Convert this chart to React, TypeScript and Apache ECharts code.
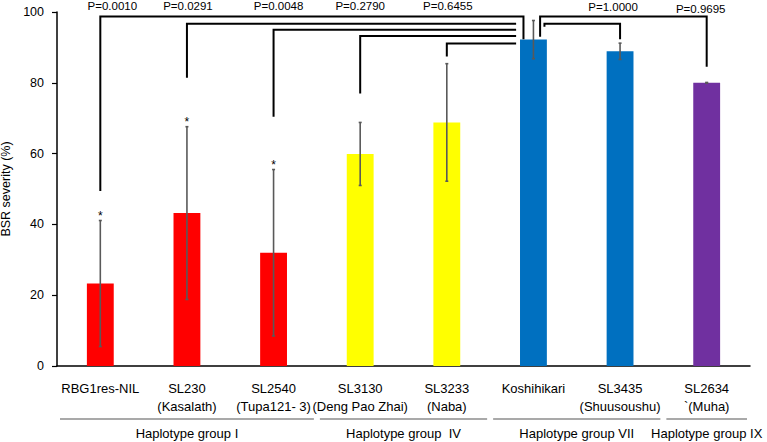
import React, { useEffect, useRef } from 'react';
import * as echarts from 'echarts';

const categories = [
  'RBG1res-NIL',
  'SL230\n(Kasalath)',
  'SL2540\n(Tupa121- 3)',
  'SL3130\n(Deng Pao Zhai)',
  'SL3233\n(Naba)',
  'Koshihikari',
  'SL3435\n(Shuusoushu)',
  'SL2634\n`(Muha)',
];
const severity = [23.3, 43.2, 32.0, 59.9, 68.8, 92.2, 88.9, 80.0];
const errorSize = [17.8, 24.4, 23.5, 8.9, 16.6, 5.4, 2.3, 0.1];
const significant = [true, true, true, false, false, false, false, false];
const barColors = ['#FF0000', '#FF0000', '#FF0000', '#FFFF00', '#FFFF00', '#0070C0', '#0070C0', '#7030A0'];

const groupNames = ['Haplotype group I', 'Haplotype group  IV', 'Haplotype group VII', 'Haplotype group IX'];
const groupFirst = [0, 3, 5, 7];
const groupLast = [2, 4, 6, 7];

const referenceIndex = 5;
const pLabels = ['P=0.0010', 'P=0.0291', 'P=0.0048', 'P=0.2790', 'P=0.6455', 'P=1.0000', 'P=0.9695'];
const comparedIndex = [0, 1, 2, 3, 4, 6, 7];
const bracketLevel = [98.7, 96.7, 95.0, 93.2, 91.1, 96.7, 98.7];
const bracketFoot = [49.4, 81.4, 70.4, 77.0, 87.4, 92.3, 84.5];
const referenceFoot = [92.3, null, null, null, null, 95.8, 93.0];

// layout-only tweaks (fractions of a category band / pixels)
const refSideShift = [-0.115, -0.2, -0.2, -0.2, -0.2, 0.127, 0.077];
const labelDx = [12, 1, 5, 0, 1, -7, -6];
const labelDy = [-6, -6, -6, -6, -6, -4.7, -2.7];

const FONT = '"Liberation Sans", Arial, Helvetica, sans-serif';

export default function App() {
  const ref = useRef<HTMLDivElement>(null);

  useEffect(() => {
    if (!ref.current) return;
    const chart = echarts.init(ref.current, undefined, { renderer: 'svg' });

    const errorData = severity.map((v, i) => [i, v - errorSize[i], v + errorSize[i], significant[i] ? 1 : 0]);
    const bracketData = comparedIndex.map((c, i) => [c, bracketLevel[i], bracketFoot[i], i]);
    const groupData = groupNames.map((_, i) => [groupFirst[i], groupLast[i], i]);

    chart.setOption({
      animation: false,
      backgroundColor: '#ffffff',
      grid: { left: 57, right: 17, top: 12, bottom: 76, containLabel: false, outerBoundsMode: 'none' },
      xAxis: {
        type: 'category',
        data: categories,
        axisLine: { show: true, lineStyle: { color: '#000', width: 1.5 } },
        axisTick: { show: false },
        axisLabel: {
          interval: 0,
          margin: 13,
          color: '#000',
          fontSize: 13,
          lineHeight: 18,
          fontFamily: FONT,
        },
      },
      yAxis: {
        type: 'value',
        min: 0,
        max: 100,
        interval: 20,
        name: 'BSR severity (%)',
        nameLocation: 'middle',
        nameGap: 41,
        nameTextStyle: { color: '#000', fontSize: 12.5, fontFamily: FONT },
        axisLine: { show: true, lineStyle: { color: '#000', width: 1.5 } },
        axisTick: { show: true, length: 5, lineStyle: { color: '#000', width: 1.2 } },
        axisLabel: { color: '#000', fontSize: 12.5, margin: 13, fontFamily: FONT },
        splitLine: { show: false },
      },
      series: [
        {
          type: 'bar',
          barWidth: '31%',
          data: severity.map((v, i) => ({ value: v, itemStyle: { color: barColors[i] } })),
          z: 2,
        },
        {
          type: 'custom',
          z: 3,
          data: errorData,
          encode: { x: 0, y: [1, 2] },
          renderItem: (params: any, api: any) => {
            const idx = api.value(0);
            const lo = api.coord([idx, api.value(1)]);
            const hi = api.coord([idx, api.value(2)]);
            const children: any[] = [
              { type: 'line', shape: { x1: hi[0], y1: hi[1], x2: lo[0], y2: lo[1] }, style: { stroke: '#595959', lineWidth: 1.6 } },
              { type: 'line', shape: { x1: hi[0] - 1.5, y1: hi[1], x2: hi[0] + 1.5, y2: hi[1] }, style: { stroke: '#595959', lineWidth: 1.6 } },
              { type: 'line', shape: { x1: lo[0] - 1.5, y1: lo[1], x2: lo[0] + 1.5, y2: lo[1] }, style: { stroke: '#595959', lineWidth: 1.6 } },
            ];
            if (api.value(3) === 1) {
              children.push({
                type: 'text',
                style: {
                  x: hi[0], y: hi[1] - 5, text: '*', fill: '#000', fontSize: 12, fontFamily: FONT,
                  align: 'center', verticalAlign: 'middle', textAlign: 'center', textVerticalAlign: 'middle',
                },
              });
            }
            return { type: 'group', children };
          },
        },
        {
          type: 'custom',
          z: 4,
          data: bracketData,
          encode: { x: 0, y: 1 },
          renderItem: (params: any, api: any) => {
            const c = api.value(0);
            const k = api.value(3);
            const band = api.size([1, 0])[0];
            const top = api.coord([c, api.value(1)]);
            const foot = api.coord([c, api.value(2)]);
            const refPt = api.coord([referenceIndex, api.value(1)]);
            const endX = refPt[0] + refSideShift[k] * band;
            const stroke = { stroke: '#000', lineWidth: 2 };
            const pts: number[][] = [
              [foot[0], foot[1]],
              [top[0], top[1]],
              [endX, top[1]],
            ];
            const rf = referenceFoot[k];
            if (rf !== null) {
              pts.push([endX, api.coord([referenceIndex, rf])[1]]);
            }
            const y100 = api.coord([c, 100])[1];
            return {
              type: 'group',
              children: [
                { type: 'polyline', shape: { points: pts }, style: { ...stroke, fill: null } },
                {
                  type: 'text',
                  style: {
                    x: top[0] + labelDx[k], y: y100 + labelDy[k], text: pLabels[k], fill: '#000',
                    fontSize: 11.5, fontFamily: FONT,
                    align: 'center', verticalAlign: 'middle', textAlign: 'center', textVerticalAlign: 'middle',
                  },
                },
              ],
            };
          },
        },
        {
          type: 'custom',
          z: 4,
          data: groupData,
          encode: { x: 0 },
          renderItem: (params: any, api: any) => {
            const a = api.value(0);
            const b = api.value(1);
            const g = api.value(2);
            const band = api.size([1, 0])[0];
            const pa = api.coord([a, 0]);
            const pb = api.coord([b, 0]);
            const x1 = pa[0] - band / 2 + 3;
            const x2 = pb[0] + band / 2 - 3;
            const y = pa[1] + 53;
            return {
              type: 'group',
              children: [
                { type: 'line', shape: { x1, y1: y, x2, y2: y }, style: { stroke: '#8c8c8c', lineWidth: 1.5 } },
                {
                  type: 'text',
                  style: {
                    x: (x1 + x2) / 2, y: y + 14, text: groupNames[g], fill: '#000', fontSize: 13, fontFamily: FONT,
                    align: 'center', verticalAlign: 'middle', textAlign: 'center', textVerticalAlign: 'middle',
                  },
                },
              ],
            };
          },
        },
      ],
    });

    return () => chart.dispose();
  }, []);

  return (
    <div
      ref={ref}
      style={{ position: 'fixed', left: 0, top: 0, width: 767, height: 442, background: '#fff' }}
    />
  );
}
